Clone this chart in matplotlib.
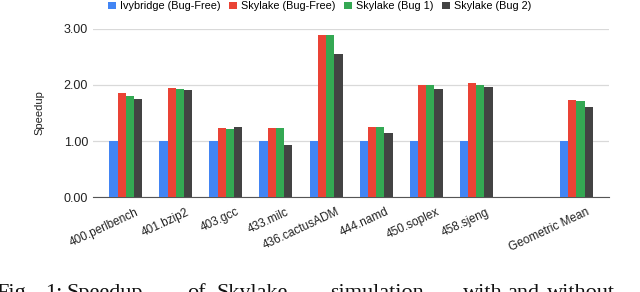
import numpy as np
import matplotlib.pyplot as plt
from matplotlib.transforms import ScaledTranslation

plt.rcParams['font.family'] = ['Liberation Sans', 'DejaVu Sans']

benchmarks = ['400.perlbench', '401.bzip2', '403.gcc', '433.milc', '436.cactusADM',
              '444.namd', '450.soplex', '458.sjeng', '', 'Geometric Mean']
series = ['Ivybridge (Bug-Free)', 'Skylake (Bug-Free)', 'Skylake (Bug 1)', 'Skylake (Bug 2)']
ivy = [1.00, 1.00, 1.00, 1.00, 1.00, 1.00, 1.00, 1.00, np.nan, 1.00]
sky_free = [1.85, 1.95, 1.23, 1.23, 2.89, 1.245, 1.995, 2.04, np.nan, 1.73]
sky_bug1 = [1.81, 1.93, 1.21, 1.23, 2.89, 1.245, 1.995, 2.00, np.nan, 1.72]
sky_bug2 = [1.755, 1.91, 1.245, 0.93, 2.55, 1.15, 1.92, 1.97, np.nan, 1.60]
colors = ['#4285F4', '#EA4335', '#34A853', '#434343']

# caption words (cut off at the bottom edge like the source) and their left x in px
caption_words = ['Fig.', '1:', 'Speedup', 'of', 'Skylake', 'simulation', 'with', 'and', 'without']
caption_x = [-4, 45, 67, 187, 217, 330, 463, 507, 547]

fig = plt.figure(figsize=(6.4, 2.92), dpi=100)
ax = fig.add_axes([0.145, 0.325, 0.807, 0.576])

x = np.arange(len(benchmarks))
w = 0.165
for i, (vals, lab, c) in enumerate(zip([ivy, sky_free, sky_bug1, sky_bug2], series, colors)):
    ax.bar(x + (i - 1.5) * w, vals, w, color=c, label=lab, zorder=3)

ax.set_xlim(-0.66, 9.66)
ax.set_ylim(0, 3)
ax.set_yticks([0, 1, 2, 3])
ax.set_yticklabels(['0.00', '1.00', '2.00', '3.00'], fontsize=9, color='#222222')
ax.set_xticks(x)
ax.set_xticklabels([])
# slanted category labels, anchored a little right of each group
lbl_tr = ax.get_xaxis_transform() + ScaledTranslation(0.10, -0.09, fig.dpi_scale_trans)
for xi, name in zip(x, benchmarks):
    ax.text(xi, 0, name, transform=lbl_tr, rotation=25, ha='right', va='top',
            rotation_mode='anchor', fontsize=8.5, color='#222222')

ax.set_ylabel('Speedup', fontsize=8, color='#222222', labelpad=14)
ax.grid(axis='y', color='#d9d9d9', linewidth=0.9, zorder=0)
for s in ['top', 'right', 'left']:
    ax.spines[s].set_visible(False)
ax.spines['bottom'].set_color('#555555')
ax.tick_params(axis='both', length=0)

ax.legend(loc='center', bbox_to_anchor=(0.439, 1.135), ncol=4, frameon=False,
          fontsize=7.8, handlelength=0.7, handleheight=0.7, handletextpad=0.4,
          columnspacing=0.8)

# caption, serif, only its top shows
for word, x0 in zip(caption_words, caption_x):
    fig.text(x0 / 640, -6 / 292, word, family='Liberation Serif', fontsize=16,
             va='baseline', ha='left', color='#111111')

fig.savefig('out.png', dpi=100)
